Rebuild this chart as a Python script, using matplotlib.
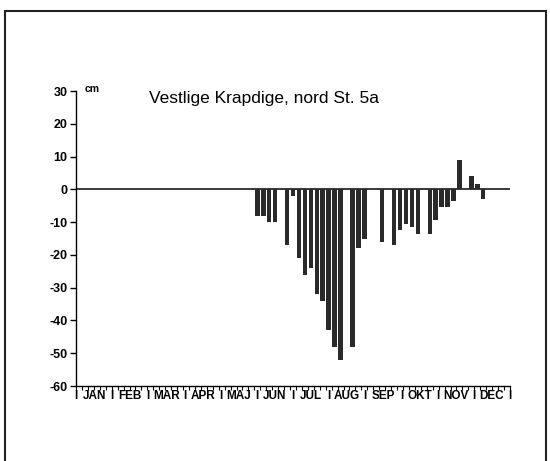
import numpy as np
import matplotlib
matplotlib.use("Agg")
import matplotlib.pyplot as plt
from matplotlib.patches import Rectangle

# 5-day periods (index 0..72) with their change in cm
pentads = [30, 31, 32, 33, 35, 36, 37, 38, 39, 40, 41, 42, 43, 44, 46, 47, 48,
           51, 53, 54, 55, 56, 57, 59, 60, 61, 62, 63, 64, 66, 67, 68]
change_cm = [-8, -8, -10, -10, -17, -2, -21, -26, -24, -32, -34, -43, -48, -52, -48, -18, -15,
             -16, -17, -12.5, -10.5, -11.5, -13.5, -13.5, -9.5, -5.5, -5.5, -3.5, 9, 4, 1.5, -3]
months = ["JAN", "FEB", "MAR", "APR", "MAJ", "JUN", "JUL", "AUG", "SEP", "OKT", "NOV", "DEC"]
yticks = [30, 20, 10, 0, -10, -20, -30, -40, -50, -60]

plt.rcParams['font.family'] = ['Liberation Sans', 'DejaVu Sans']

W, H = 550, 461
fig = plt.figure(figsize=(W / 100, H / 100), dpi=100)

# frame around the whole plate
fig.patches.append(Rectangle((5 / W, -0.01), 541 / W, (H - 11) / H + 0.01,
                             transform=fig.transFigure, fill=False,
                             edgecolor="#222222", linewidth=1.5))

ax = fig.add_axes([76 / W, (H - 386) / H, (510 - 76) / W, (386 - 91) / H])

x = np.array(pentads) + 0.5
ax.bar(x, change_cm, width=0.75, color="#2a2a2a", edgecolor="none")
ax.axhline(0, color="#2a2a2a", linewidth=1.3)

ax.set_xlim(0, 73)
ax.set_ylim(-60, 30)

for s in ["top", "right"]:
    ax.spines[s].set_visible(False)
ax.spines["left"].set_linewidth(1.0)
ax.spines["bottom"].set_linewidth(1.0)

ax.set_yticks(yticks)
ax.set_yticklabels([str(v) for v in yticks], fontsize=9, fontweight="bold")
ax.tick_params(axis="y", direction="out", length=4, width=1, pad=2)

# 5-day tick marks on the bottom axis
ax.set_xticks(np.arange(0, 74))
ax.set_xticklabels([])
ax.tick_params(axis="x", direction="out", length=3, width=0.8)

# month names with separators
for i, m in enumerate(months):
    xm = (i + 0.5) * 73 / 12
    ax.text(xm, -61.2, m, ha="center", va="top", fontsize=8.5, fontweight="bold")
for i in range(13):
    ax.text(i * 73 / 12, -61.2, "I", ha="center", va="top", fontsize=8.5, fontweight="bold")

ax.text(1.5, 30.5, "cm", ha="left", va="center", fontsize=7.5, fontweight="bold")
ax.text(12.3, 27.8, "Vestlige Krapdige, nord St. 5a", ha="left", va="center", fontsize=12.5)

fig.savefig("out.png", dpi=100)
